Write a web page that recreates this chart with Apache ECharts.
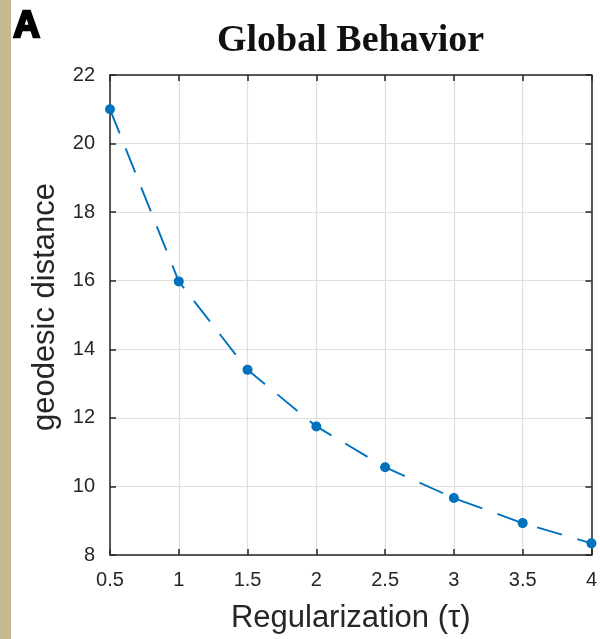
<!DOCTYPE html>
<html>
<head>
<meta charset="utf-8">
<script src="https://cdn.jsdelivr.net/npm/echarts@6/dist/echarts.min.js"></script>
<style>
  html, body { margin: 0; padding: 0; background: #ffffff; }
  #chart { width: 600px; height: 639px; }
</style>
</head>
<body>
<div id="chart"></div>
<script>
// Regularization parameter and the resulting geodesic distance
const tau = [0.5, 1, 1.5, 2, 2.5, 3, 3.5, 4];
const geodesicDistance = [21.0, 15.98, 13.4, 11.75, 10.56, 9.66, 8.93, 8.34];

const xTicks = { min: 0.5, max: 4, interval: 0.5 };
const yTicks = { min: 8, max: 22, interval: 2 };

const axisColor = '#262626';
const gridColor = '#dedede';
const lineColor = '#0072BD';
const sans = 'Liberation Sans, Arial, Helvetica, sans-serif';

const points = tau.map((t, i) => [t, geodesicDistance[i]]);

const chart = echarts.init(document.getElementById('chart'), null, { renderer: 'canvas' });

// box-style axes along the top and right edges: ticks only
const frameAxis = {
  axisLine: { show: true, lineStyle: { color: axisColor, width: 1.5 } },
  axisTick: { show: true, inside: true, length: 6, lineStyle: { color: axisColor, width: 1.5 } },
  axisLabel: { show: false },
  splitLine: { show: false }
};

chart.setOption({
  animation: false,
  backgroundColor: '#ffffff',
  title: {
    text: 'Global Behavior',
    left: 212,
    top: 17,
    textStyle: {
      fontFamily: 'Liberation Serif, Times New Roman, serif',
      fontWeight: 'bold',
      fontSize: 38,
      color: '#111111'
    }
  },
  graphic: [
    {
      type: 'rect',
      left: 0, top: 0,
      shape: { x: 0, y: 0, width: 11, height: 639 },
      style: { fill: '#c8b88f' }
    },
    {
      type: 'text',
      left: 12, top: 7,
      style: {
        text: 'A',
        font: '900 37px ' + sans,
        fill: '#000000',
        stroke: '#000000',
        lineWidth: 2.4
      }
    }
  ],
  grid: { left: 110, top: 75, right: 8, bottom: 83 },
  xAxis: [
    {
      type: 'value',
      min: xTicks.min, max: xTicks.max, interval: xTicks.interval,
      name: 'Regularization (τ)',
      nameLocation: 'middle',
      nameGap: 48,
      nameTextStyle: { fontFamily: sans, fontSize: 31, color: axisColor },
      axisLine: { show: true, onZero: false, lineStyle: { color: axisColor, width: 1.5 } },
      axisTick: { show: true, inside: true, length: 6, lineStyle: { color: axisColor, width: 1.5 } },
      axisLabel: { fontFamily: sans, fontSize: 20, color: axisColor, margin: 15 },
      splitLine: { show: true, lineStyle: { color: gridColor, width: 1.2 } }
    },
    Object.assign({
      type: 'value', position: 'top',
      min: xTicks.min, max: xTicks.max, interval: xTicks.interval
    }, frameAxis)
  ],
  yAxis: [
    {
      type: 'value',
      min: yTicks.min, max: yTicks.max, interval: yTicks.interval,
      name: 'geodesic distance',
      nameLocation: 'middle',
      nameGap: 49,
      nameTextStyle: { fontFamily: sans, fontSize: 31, color: axisColor, padding: [0, 0, 0, 16] },
      axisLine: { show: true, onZero: false, lineStyle: { color: axisColor, width: 1.5 } },
      axisTick: { show: true, inside: true, length: 6, lineStyle: { color: axisColor, width: 1.5 } },
      axisLabel: { fontFamily: sans, fontSize: 20, color: axisColor, margin: 15 },
      splitLine: { show: true, lineStyle: { color: gridColor, width: 1.2 } }
    },
    Object.assign({
      type: 'value', position: 'right',
      min: yTicks.min, max: yTicks.max, interval: yTicks.interval
    }, frameAxis)
  ],
  series: [
    {
      type: 'line',
      data: points,
      xAxisIndex: 0,
      yAxisIndex: 0,
      clip: false,
      symbol: 'circle',
      symbolSize: 10,
      showSymbol: true,
      itemStyle: { color: lineColor },
      lineStyle: { color: lineColor, width: 1.9, type: [26, 16], dashOffset: 0 },
      z: 5
    }
  ]
});
</script>
</body>
</html>
